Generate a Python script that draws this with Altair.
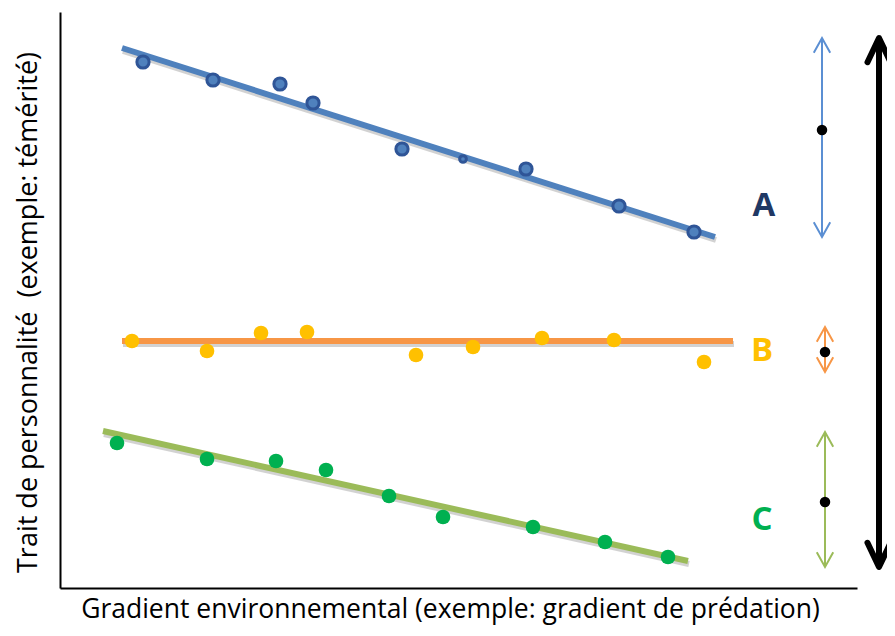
import altair as alt
import pandas as pd

# ---- values (x: gradient position, y: trait value) ----
# Group A (blue): steep negative slope, wide spread
A_x = [83, 153, 220, 253, 342, 403, 466, 559, 634]
A_y = [526, 508, 504, 485, 439, 429, 419, 382, 356]
A_w = [1, 1, 1, 1, 1, 0.3, 1, 1, 1]
A_fit_x = [62, 655]
A_fit_y = [540, 351]

# Group B (yellow/orange): flat
B_x = [72, 147, 201, 247, 356, 413, 482, 554, 644]
B_y = [247, 237, 255, 256, 233, 241, 250, 248, 226]
B_fit_x = [62, 673]
B_fit_y = [247, 247]

# Group C (green): negative slope
C_x = [57, 147, 216, 266, 329, 383, 473, 545, 608]
C_y = [145, 129, 127, 118, 92, 71, 61, 46, 31]
C_fit_x = [43, 628]
C_fit_y = [157, 27]

groups = ["A", "B", "C"]
label_x = [704, 702, 702]
label_y = [382, 237, 68]

# range arrows per group
arrow_x = [762, 765, 765]
arrow_top = [550, 261, 156]
arrow_bottom = [351, 216, 21]
arrow_mid = [458, 236, 86]

# overall range arrow
total_x = [819]
total_top = [550]
total_bottom = [21]

X_TITLE = "Gradient environnemental (exemple: gradient de prédation)"
Y_TITLE = "Trait de personnalité\u00a0 (exemple: témérité)"

# ---- styles ----
line_col = {"A": "#4F81BD", "B": "#F79646", "C": "#9BBB59"}
pt_col = {"A": "#4F81BD", "B": "#FFC000", "C": "#00B050"}
lab_col = {"A": "#1F3864", "B": "#FFC000", "C": "#00B050"}
arr_col = {"A": "#5B8FD3", "B": "#F79646", "C": "#9BBB59"}
FONT = "Open Sans"

xs = alt.Scale(domain=[0, 797], nice=False, zero=False)
ys = alt.Scale(domain=[0, 576], nice=False, zero=False)
x_axis = alt.Axis(title=X_TITLE, ticks=False, labels=False, grid=False,
                  domainColor="black", domainWidth=2, titleFont=FONT,
                  titleFontSize=26.5, titleFontWeight="normal", titleColor="black",
                  titlePadding=8, titleX=390)
y_axis = alt.Axis(title=Y_TITLE, ticks=False, labels=False, grid=False,
                  domainColor="black", domainWidth=2, titleFont=FONT,
                  titleFontSize=27, titleFontWeight="normal", titleColor="black",
                  titlePadding=18, titleY=300)
X = alt.X("x:Q", scale=xs, axis=x_axis)
Y = alt.Y("y:Q", scale=ys, axis=y_axis)

UP = "M-1,1.8L0,0L1,1.8"
DOWN = "M-1,-1.8L0,0L1,-1.8"
UP_BIG = "M-1,2.1L0,0L1,2.1"
DOWN_BIG = "M-1,-2.1L0,0L1,-2.1"

data = {
    "A": (A_x, A_y, A_fit_x, A_fit_y),
    "B": (B_x, B_y, B_fit_x, B_fit_y),
    "C": (C_x, C_y, C_fit_x, C_fit_y),
}

layers = []
for g in groups:
    px, py, fx, fy = data[g]
    fit = pd.DataFrame({"x": fx, "y": fy})
    layers.append(alt.Chart(fit).mark_line(color="#7f7f7f", opacity=0.35, strokeWidth=6,
                                           yOffset=3, xOffset=1).encode(x=X, y=Y))
    layers.append(alt.Chart(fit).mark_line(color=line_col[g], strokeWidth=6).encode(x=X, y=Y))
    if g == "A":
        pts = pd.DataFrame({"x": px, "y": py, "w": A_w})
        layers.append(alt.Chart(pts).mark_circle(color=pt_col[g], stroke="#2F5597",
                                                 strokeWidth=3, opacity=1).encode(
            x=X, y=Y,
            size=alt.Size("w:Q", scale=alt.Scale(domain=[0, 1], range=[0, 150]), legend=None)))
    else:
        pts = pd.DataFrame({"x": px, "y": py})
        layers.append(alt.Chart(pts).mark_circle(color=pt_col[g], size=215, opacity=1).encode(x=X, y=Y))

for i, g in enumerate(groups):
    lab = pd.DataFrame({"x": [label_x[i]], "y": [label_y[i]], "t": [g]})
    layers.append(alt.Chart(lab).mark_text(font=FONT, fontSize=33, fontWeight="bold",
                                           color=lab_col[g], baseline="middle").encode(
        x=X, y=Y, text="t:N"))
    arr = pd.DataFrame({"x": [arrow_x[i]], "y": [arrow_top[i]], "y2": [arrow_bottom[i]]})
    layers.append(alt.Chart(arr).mark_rule(color=arr_col[g], strokeWidth=2).encode(
        x=X, y=Y, y2="y2:Q"))
    top = pd.DataFrame({"x": [arrow_x[i]], "y": [arrow_top[i]]})
    bot = pd.DataFrame({"x": [arrow_x[i]], "y": [arrow_bottom[i]]})
    layers.append(alt.Chart(top).mark_point(shape=UP, size=270, filled=False, color=arr_col[g],
                                            strokeWidth=2, opacity=1).encode(x=X, y=Y))
    layers.append(alt.Chart(bot).mark_point(shape=DOWN, size=270, filled=False, color=arr_col[g],
                                            strokeWidth=2, opacity=1).encode(x=X, y=Y))
    mid = pd.DataFrame({"x": [arrow_x[i]], "y": [arrow_mid[i]]})
    layers.append(alt.Chart(mid).mark_circle(color="black", size=110, opacity=1).encode(x=X, y=Y))

tot = pd.DataFrame({"x": total_x, "y": total_top, "y2": total_bottom})
layers.append(alt.Chart(tot).mark_rule(color="black", strokeWidth=6).encode(x=X, y=Y, y2="y2:Q"))
ttop = pd.DataFrame({"x": total_x, "y": total_top})
tbot = pd.DataFrame({"x": total_x, "y": total_bottom})
layers.append(alt.Chart(ttop).mark_point(shape=UP_BIG, size=530, filled=False, color="black",
                                         strokeWidth=6, opacity=1, strokeJoin="round",
                                         strokeCap="round").encode(x=X, y=Y))
layers.append(alt.Chart(tbot).mark_point(shape=DOWN_BIG, size=530, filled=False, color="black",
                                         strokeWidth=6, opacity=1, strokeJoin="round",
                                         strokeCap="round").encode(x=X, y=Y))

chart = alt.layer(*layers).properties(
    width=797, height=576,
    autosize=alt.AutoSizeParams(type="none"),
    padding={"left": 52, "top": 4, "right": 30, "bottom": 40},
    background="white",
).configure_view(stroke=None)

chart.save("out.html", embed_options={"renderer": "svg", "actions": False})
